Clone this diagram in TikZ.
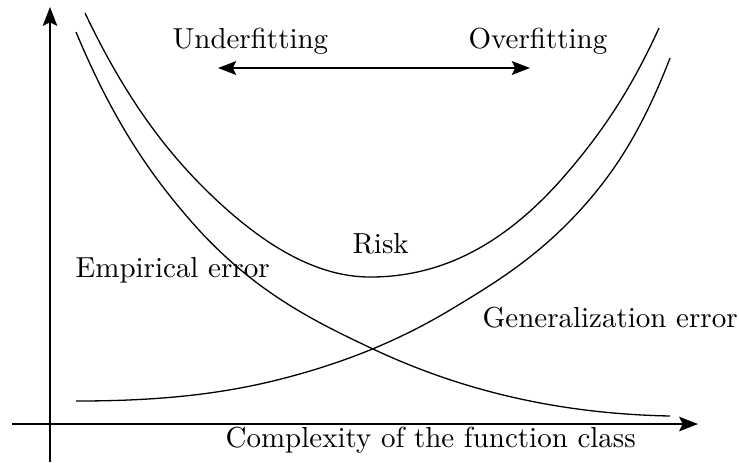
\documentclass[tikz,border=0pt]{standalone}
\usepackage{amsmath}
\usepackage{amssymb}
\usepackage{tikz}
\usetikzlibrary{positioning,arrows.meta}
\tikzset{every picture/.style={line width=0.45pt}}
\tikzset{
  axisline/.style={line width=0.6pt,-{Stealth[length=6.5pt,width=5pt,inset=1.2pt]}},
  twoway/.style={line width=0.55pt,{Stealth[length=6.3pt,width=4.8pt,inset=1.2pt]}-{Stealth[length=6.3pt,width=4.8pt,inset=1.2pt]}},
  errcurve/.style={line width=0.45pt},
  lbl/.style={anchor=base west,inner sep=0pt}
}

\begin{document}
\begin{tikzpicture}[x=0.345pt,y=0.345pt,yscale=-1,xscale=1]

\useasboundingbox (0,0) rectangle (739,462);

%Axes
\coordinate (xorig) at (12,424);
\coordinate (xtip) at (698,424);
\coordinate (yorig) at (50,462);
\coordinate (ytip) at (50,7);
\draw [axisline] (xorig) -- (xtip);
\draw [axisline] (yorig) -- (ytip);

%Curve Lines [Risk]
\draw [errcurve] (85,13) .. controls (124.3,95.6) and (163.7,147.7) .. (203,187)
  .. controls (258.7,242.7) and (314.3,277) .. (370,277)
  .. controls (435.7,277) and (501.3,249.9) .. (567,173)
  .. controls (597.7,137.1) and (628.3,95.5) .. (659,28) ;
%Curve Lines [Empirical error]
\draw [errcurve] (76,32) .. controls (114,123.2) and (152,176.3) .. (190,220)
  .. controls (251,290.2) and (312,320.3) .. (373,349)
  .. controls (472,395.5) and (571,414) .. (670,416) ;
%Curve Lines [Generalization error]
\draw [errcurve] (76,401) .. controls (143,401) and (210,396.75) .. (277,380)
  .. controls (334.7,365.6) and (392.3,344.6) .. (450,310)
  .. controls (494.3,283.4) and (538.7,256.6) .. (583,207)
  .. controls (612,174.5) and (641,133.4) .. (670,58) ;

%Straight Lines [double arrow]
\coordinate (leftend) at (218,68);
\coordinate (rightend) at (530,68);
\draw [twoway] (leftend) -- (rightend);

% Text Node
\node [lbl] (under) at (172,48) {Underfitting};
% Text Node
\node [lbl] (over) at (468,48) {Overfitting};
% Text Node
\node [lbl] (risk) at (352,253) {Risk};
% Text Node
\node [lbl] (emp) at (75,277) {Empirical error};
% Text Node
\node [lbl] (gen) at (482,327) {Generalization error};
% Text Node
\node [lbl] (cplx) at (225,447) {Complexity of the function class};

\end{tikzpicture}
\end{document}
